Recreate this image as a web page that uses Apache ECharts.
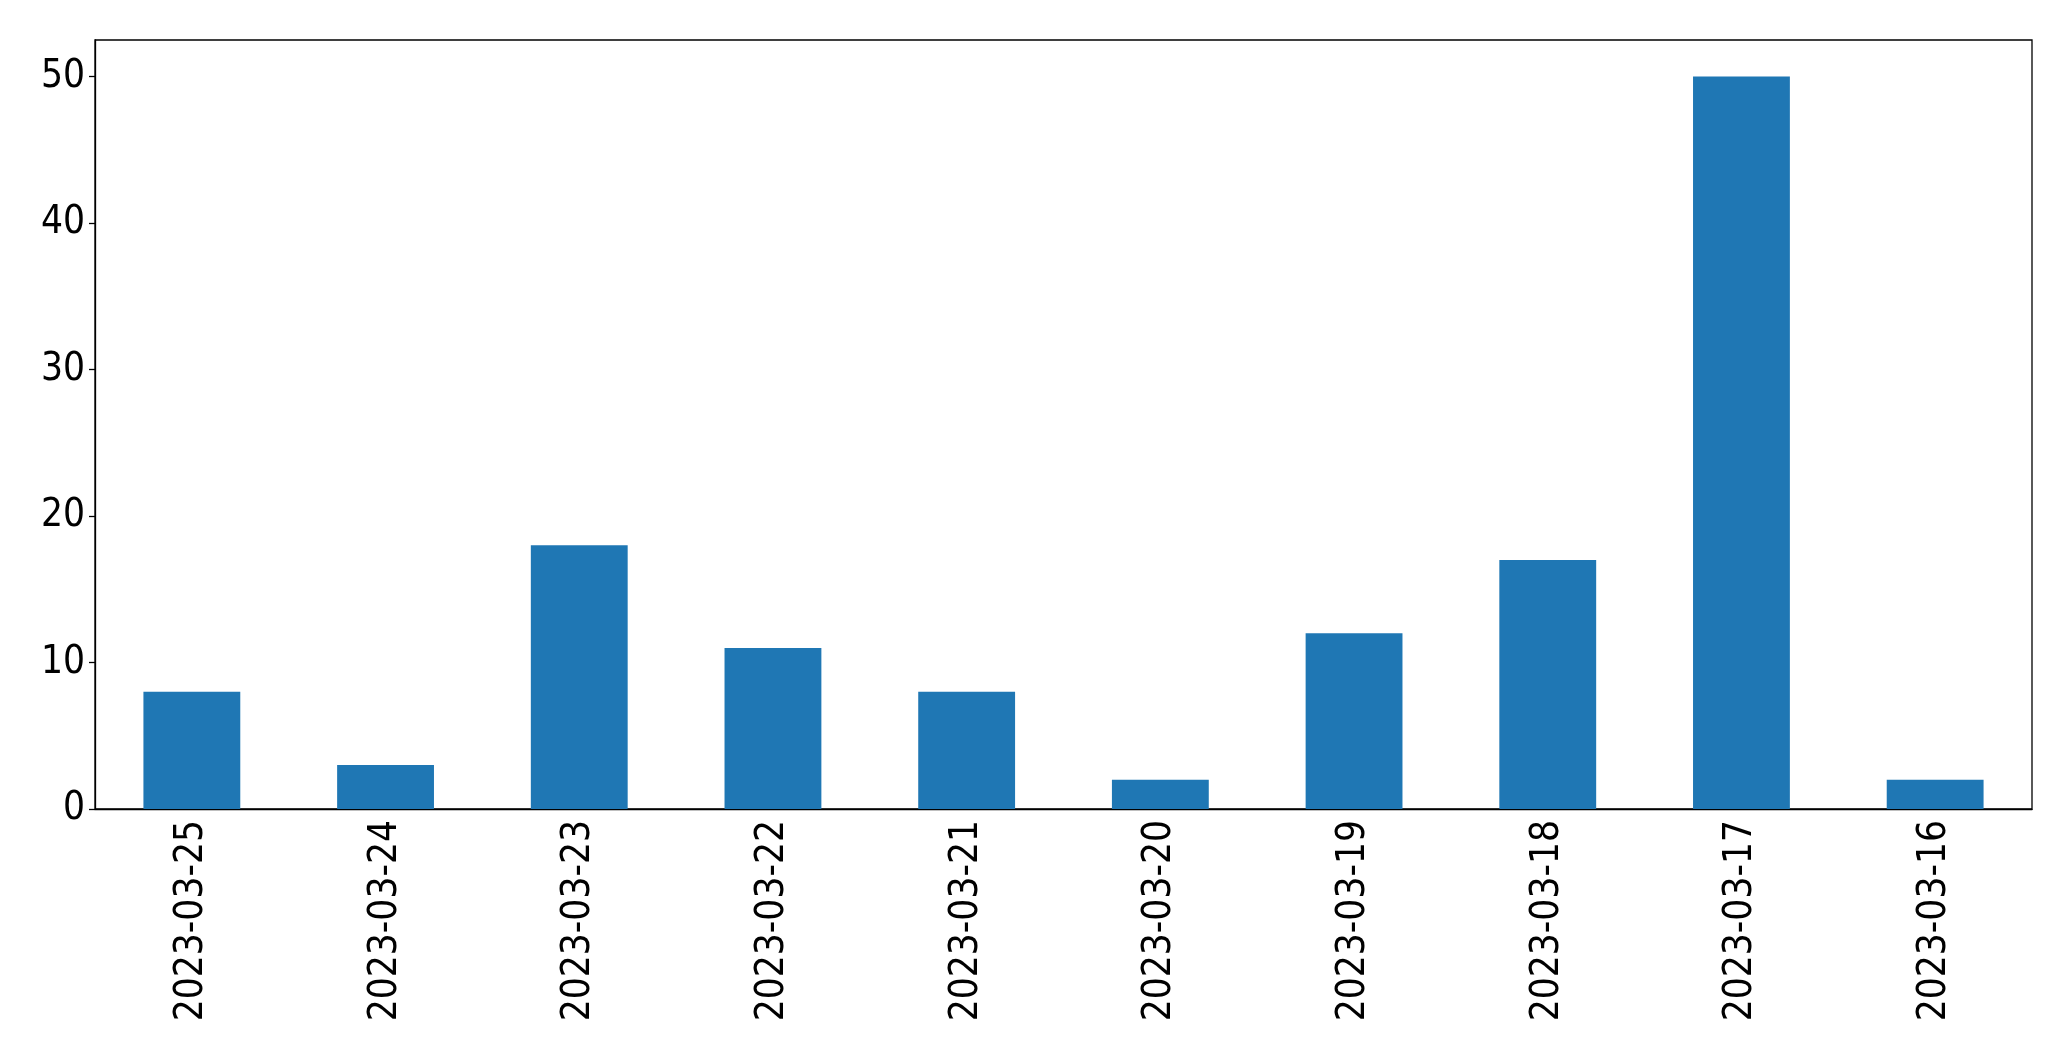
<!DOCTYPE html>
<html><head><meta charset="utf-8">
<script src="https://cdn.jsdelivr.net/npm/echarts@6/dist/echarts.min.js"></script>
<style>html,body{margin:0;padding:0;background:#fff}#c{width:2071px;height:1061px}</style>
</head><body><div id="c"></div>
<script>
const categories = ["2023-03-25","2023-03-24","2023-03-23","2023-03-22","2023-03-21","2023-03-20","2023-03-19","2023-03-18","2023-03-17","2023-03-16"];
const values = [8, 3, 18, 11, 8, 2, 12, 17, 50, 2];
const yTicks = [0, 10, 20, 30, 40, 50];

const chart = echarts.init(document.getElementById('c'), null, {renderer: 'canvas'});
chart.setOption({
  animation: false,
  backgroundColor: '#fff',
  grid: {left: 95, right: 39, top: 40, bottom: 252, show: true, borderColor: '#000', borderWidth: 1.3, containLabel: false},
  xAxis: {
    type: 'category', data: categories,
    axisLine: {lineStyle: {color: '#000', width: 1.3}},
    axisTick: {alignWithLabel: true, length: 6, lineStyle: {color: '#000', width: 1.3}},
    axisLabel: {rotate: 90, color: '#000', fontSize: 38.5, fontFamily: 'DejaVu Sans Condensed', margin: 11, interval: 0}
  },
  yAxis: {
    type: 'value', min: 0, max: 52.5, interval: 10,
    splitLine: {show: false},
    axisLine: {show: true, lineStyle: {color: '#000', width: 1.3}},
    axisTick: {show: true, length: 6, customValues: yTicks, lineStyle: {color: '#000', width: 1.3}},
    axisLabel: {color: '#000', fontSize: 38.5, fontFamily: 'DejaVu Sans Condensed', margin: 10, customValues: yTicks}
  },
  series: [{type: 'bar', data: values, barWidth: '50%', itemStyle: {color: '#1f77b4'}}]
});
</script></body></html>
